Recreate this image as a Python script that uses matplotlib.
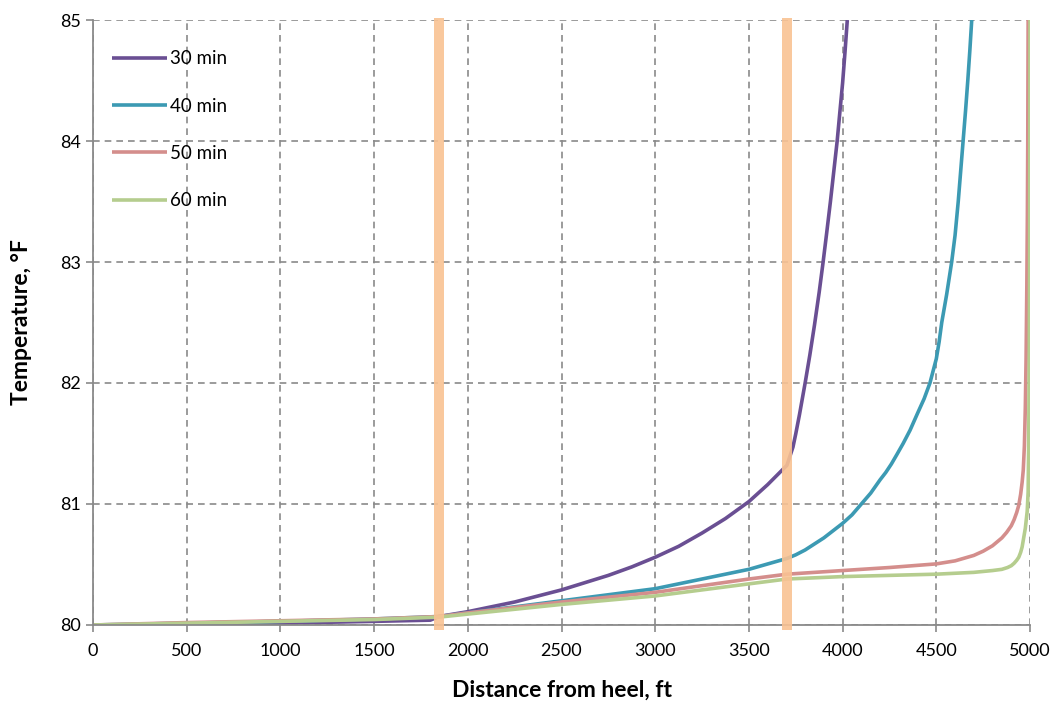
import matplotlib
matplotlib.use("Agg")
import matplotlib.pyplot as plt

plt.rcParams['font.family'] = ['Lato', 'DejaVu Sans']

# data
x_30 = [0, 500, 1000, 1500, 1800, 1846, 2000, 2125, 2250, 2375, 2500, 2625, 2750, 2875, 3000,
        3125, 3250, 3375, 3500, 3600, 3703, 3720, 3735, 3750, 3770, 3785, 3800, 3825, 3850,
        3875, 3896, 3915, 3935, 3953, 3971, 3986, 4000, 4013, 4025]
t_30 = [80.0, 80.005, 80.015, 80.03, 80.04, 80.07, 80.11, 80.15, 80.19, 80.24, 80.29, 80.35, 80.41, 80.48, 80.56,
        80.65, 80.76, 80.88, 81.02, 81.16, 81.32, 81.40, 81.47, 81.58, 81.74, 81.87, 82.0, 82.23, 82.48,
        82.75, 83.0, 83.24, 83.5, 83.75, 84.0, 84.25, 84.48, 84.74, 85.0]

x_40 = [0, 500, 1000, 1500, 1846, 2000, 2250, 2500, 2750, 3000, 3250, 3500, 3703, 3750, 3800,
        3850, 3900, 3950, 4000, 4050, 4100, 4150, 4200, 4230, 4260, 4290, 4323, 4360, 4400,
        4435, 4466, 4483, 4500, 4515, 4529, 4555, 4582, 4600, 4617, 4630, 4643, 4656, 4668,
        4679, 4689]
t_40 = [80.0, 80.015, 80.03, 80.05, 80.07, 80.1, 80.15, 80.2, 80.25, 80.3, 80.38, 80.46, 80.55, 80.58, 80.62,
        80.67, 80.72, 80.78, 80.84, 80.91, 81.0, 81.09, 81.2, 81.26, 81.33, 81.41, 81.5, 81.61, 81.75,
        81.87, 82.0, 82.1, 82.2, 82.34, 82.5, 82.73, 83.0, 83.22, 83.5, 83.75, 84.0, 84.25, 84.5,
        84.75, 85.0]

x_50 = [0, 500, 1000, 1500, 1846, 2000, 2500, 3000, 3500, 3703, 4000, 4250, 4500, 4600, 4700,
        4750, 4800, 4850, 4875, 4900, 4915, 4929, 4940, 4950, 4958, 4964, 4970, 4975, 4979,
        4983, 4986, 4988, 4990]
t_50 = [80.0, 80.02, 80.035, 80.05, 80.07, 80.1, 80.19, 80.27, 80.38, 80.42, 80.45, 80.475, 80.505, 80.53, 80.575,
        80.61, 80.655, 80.72, 80.765, 80.82, 80.87, 80.93, 80.99, 81.08, 81.18, 81.28, 81.48, 81.8, 82.2,
        82.8, 83.4, 84.0, 85.0]

x_60 = [0, 500, 1000, 1500, 1846, 2000, 2500, 3000, 3500, 3703, 4000, 4500, 4700, 4800, 4850,
        4880, 4900, 4915, 4929, 4940, 4950, 4958, 4964, 4975, 4985, 4990, 4993, 4996, 4998, 4999, 5000]
t_60 = [80.0, 80.015, 80.03, 80.045, 80.065, 80.09, 80.17, 80.24, 80.34, 80.38, 80.4, 80.42, 80.435, 80.45, 80.46,
        80.475, 80.49, 80.51, 80.535, 80.56, 80.6, 80.645, 80.7, 80.8, 80.94, 81.1, 81.5, 82.2, 83.0, 84.0, 85.0]

series = [("30 min", x_30, t_30, "#6a4f93"),
          ("40 min", x_40, t_40, "#3c9ab3"),
          ("50 min", x_50, t_50, "#d48e8c"),
          ("60 min", x_60, t_60, "#b5cd8e")]

marker_x = [1846, 3703]

fig = plt.figure(figsize=(10.52, 7.02), dpi=100)
ax = fig.add_axes([0.0884, 0.1097, 0.8907, 0.8618])

for label, xs, ts, c in series:
    ax.plot(xs, ts, color=c, lw=2.6, label=label, solid_capstyle='butt',
            solid_joinstyle='round', zorder=2)

# orange marker bars
ax.bar(marker_x, [5.06] * len(marker_x), bottom=79.96, width=55, color="#f9c293",
       alpha=0.9, zorder=3, clip_on=False)

ax.set_xlim(0, 5000)
ax.set_ylim(80, 85)
ax.set_xticks(range(0, 5001, 500))
ax.set_yticks(range(80, 86))

ax.grid(True, color="#8a8a8a", linestyle=(0, (4, 3)), lw=1.2, zorder=0)
ax.set_axisbelow(True)
for s in ["top", "right"]:
    ax.spines[s].set_visible(False)
for s in ["left", "bottom"]:
    ax.spines[s].set_color("#8a8a8a")
    ax.spines[s].set_linewidth(1.3)
ax.tick_params(colors="#8a8a8a", labelcolor="black", labelsize=13, length=5, width=1.2)
ax.tick_params(axis='x', pad=8)

ax.set_xlabel("Distance from heel, ft", fontsize=16.5, fontweight="bold", va="center")
ax.set_ylabel("Temperature, °F", fontsize=16.5, fontweight="bold", va="center")
ax.xaxis.set_label_coords(0.5, -0.107)
ax.yaxis.set_label_coords(-0.076, 0.5)

ax.legend(loc="upper left", frameon=False, fontsize=13.5, handlelength=2.93,
          handletextpad=0.2, labelspacing=1.62, bbox_to_anchor=(0.0, 0.981), borderaxespad=0.6)

fig.savefig("out.png", dpi=100)
